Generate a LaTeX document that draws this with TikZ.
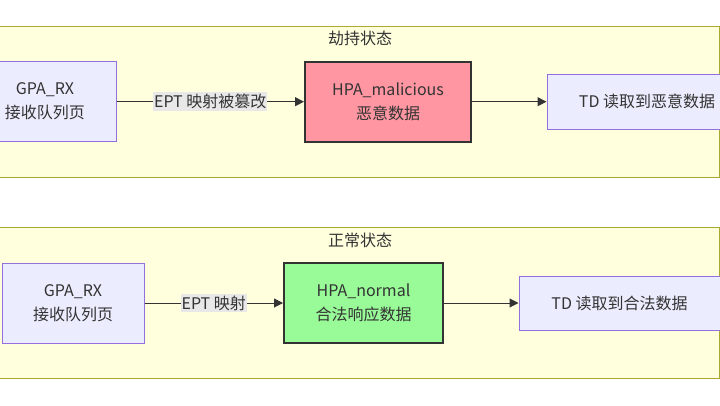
\documentclass[tikz,border=0pt]{standalone}
\usepackage{fontspec}
\setmainfont{Noto Sans CJK SC}
\usetikzlibrary{arrows.meta}
\definecolor{clfill}{HTML}{FFFFDE}
\definecolor{clline}{HTML}{AAAA33}
\definecolor{lav}{HTML}{ECECFF}
\definecolor{lavline}{HTML}{9370DB}
\definecolor{pinkf}{HTML}{FF96A1}
\definecolor{greenf}{HTML}{98FB98}
\definecolor{ink}{HTML}{333333}
\definecolor{lblbg}{HTML}{E8E8E8}
\tikzset{
  every node/.style={font=\fontsize{16pt}{24pt}\selectfont, text=ink, align=center, inner sep=0pt},
  cluster/.style={draw=clline, fill=clfill, line width=1pt},
  plain/.style={draw=lavline, fill=lav, line width=1pt},
  bad/.style={draw=ink, fill=pinkf, line width=2pt},
  good/.style={draw=ink, fill=greenf, line width=2pt},
  conn/.style={draw=ink, line width=1pt, -{Triangle[length=9pt,width=9pt]}},
  elabel/.style={fill=lblbg, inner xsep=1pt, inner ysep=2pt}
}
\begin{document}
\begin{tikzpicture}[x=1pt,y=-1pt]
\useasboundingbox (0,0) rectangle (720,405);
\fill[white] (0,0) rectangle (720,405);
% clusters
\draw[cluster] (-10,26) rectangle (719.5,177);
\node (t1) at (360,38) {劫持状态};
\draw[cluster] (-10,227) rectangle (719.5,378);
\node (t2) at (360,240) {正常状态};
% top row
\node[plain, minimum width=142pt, minimum height=80pt] (gpa1) at (45,101.7) {GPA\_RX\\接收队列页};
\node[bad, minimum width=166pt, minimum height=80pt] (hpa1) at (388,101.7) {HPA\_malicious\\恶意数据};
\node[plain, minimum width=200pt, minimum height=55pt] (td1) at (647,101.7) {TD 读取到恶意数据};
\draw[conn] (gpa1.east) -- node[elabel] {EPT 映射被篡改} (hpa1.west);
\draw[conn] (hpa1.east) -- (td1.west);
% bottom row
\node[plain, minimum width=142pt, minimum height=80pt] (gpa2) at (73,303) {GPA\_RX\\接收队列页};
\node[good, minimum width=159pt, minimum height=80pt] (hpa2) at (363.5,303) {HPA\_normal\\合法响应数据};
\node[plain, minimum width=201pt, minimum height=54pt] (td2) at (619.5,303) {TD 读取到合法数据};
\draw[conn] (gpa2.east) -- node[elabel] {EPT 映射} (hpa2.west);
\draw[conn] (hpa2.east) -- (td2.west);
\end{tikzpicture}
\end{document}
